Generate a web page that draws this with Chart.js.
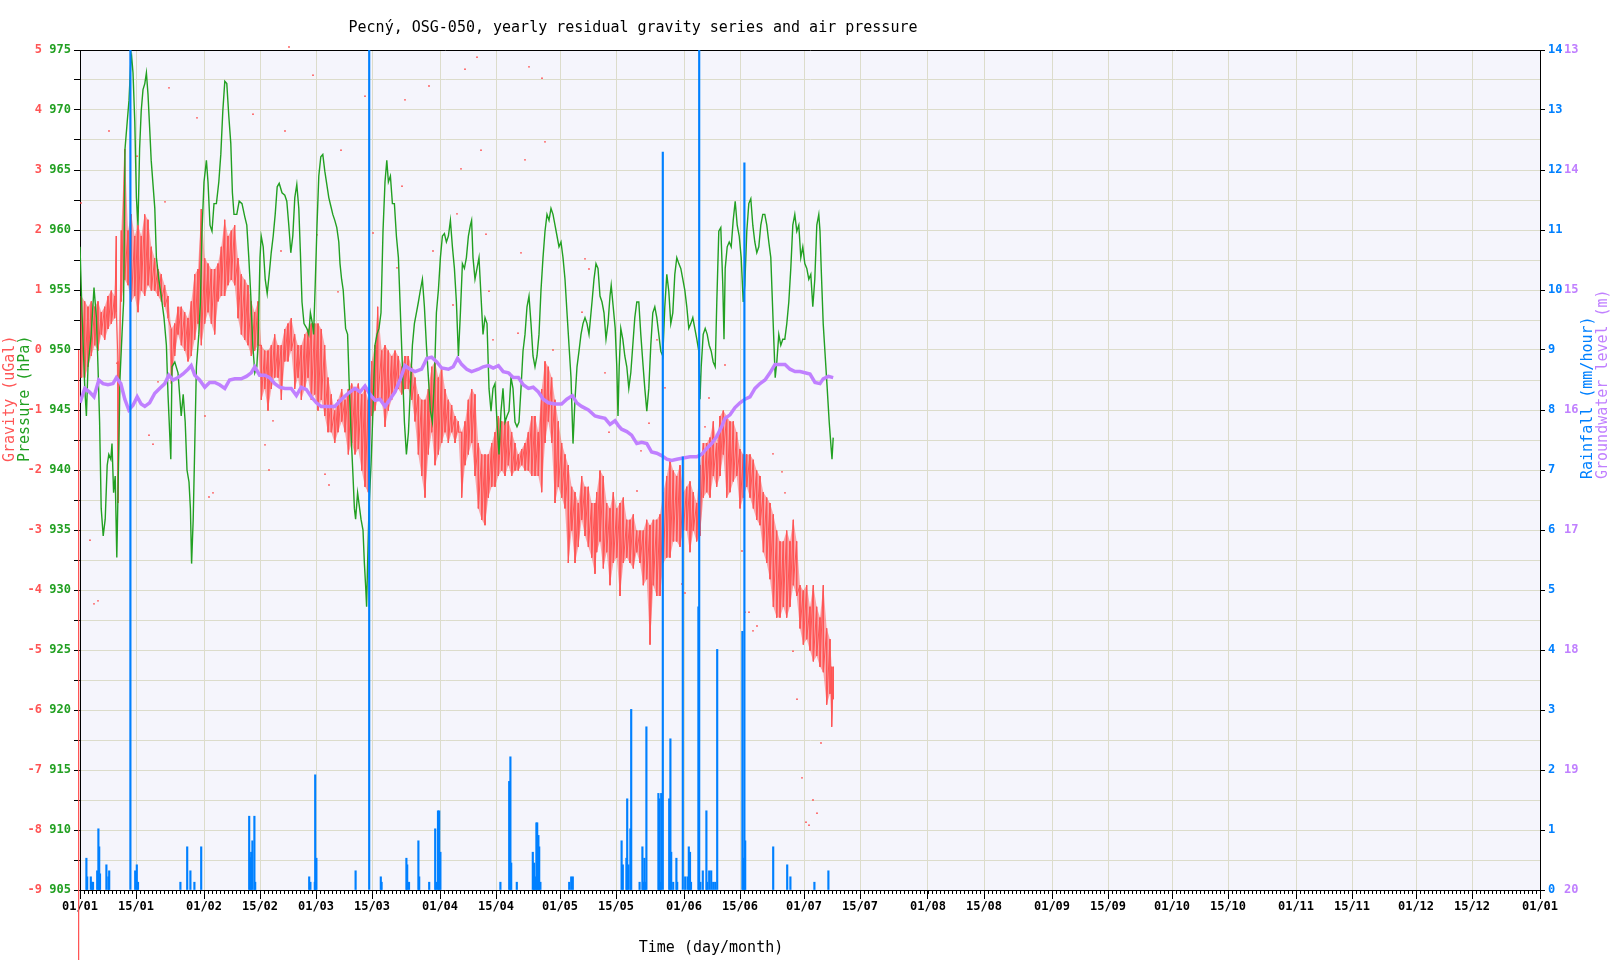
<!DOCTYPE html>
<html>
<head>
<meta charset="utf-8">
<title>Pecný, OSG-050, yearly residual gravity series and air pressure</title>
<script src="https://cdn.jsdelivr.net/npm/chart.js@4.4.0/dist/chart.umd.min.js"></script>
<style>
  html, body { margin: 0; padding: 0; background: #fff; }
  #wrap { width: 1610px; height: 960px; }
</style>
</head>
<body>
<div id="wrap"><canvas id="chart" width="1610" height="960"></canvas></div>
<script>
// x axis: day of year (0 = 01/01)
const tickDays = [0, 14, 31, 45, 59, 73, 90, 104, 120, 134, 151, 165, 181, 195, 212, 226, 243, 257, 273, 287, 304, 318, 334, 348, 365];
const tickLabels = ["01/01", "15/01", "01/02", "15/02", "01/03", "15/03", "01/04", "15/04", "01/05", "15/05", "01/06", "15/06",
  "01/07", "15/07", "01/08", "15/08", "01/09", "15/09", "01/10", "15/10", "01/11", "15/11", "01/12", "15/12", "01/01"];

// air pressure (hPa)
const pressureDay = [0, 0.5, 1.2, 1.6, 2.0, 2.8, 3.5, 4.1, 4.5, 4.9, 5.3, 5.8, 6.3, 6.8, 7.2, 7.7, 8.0, 8.4, 8.8, 9.2, 9.5, 10.0, 10.5, 10.9,
  11.25, 11.8, 12.25, 12.7, 12.9, 13.25, 13.7, 14.1, 14.5, 14.9, 15.3, 15.75, 16.2, 16.6, 17.0, 17.4, 17.8, 18.25, 18.7, 19.1, 19.7,
  20.3, 21.0, 21.6, 22.0, 22.3, 22.7, 23.0, 23.7, 24.5, 24.9, 25.3, 25.8, 26.3, 26.75, 27.25, 27.6, 27.9, 28.3, 28.7, 29.1, 29.7,
  30.1, 30.5, 31.0, 31.6, 32.0, 32.5, 33.0, 33.5, 34.1, 34.7, 35.2, 35.7, 36.2, 36.7, 37.2, 37.7, 38.1, 38.5, 39.2, 39.8, 40.5,
  41.2, 41.7, 42.2, 42.7, 43.2, 43.7, 44.2, 44.5, 45.0, 45.3, 45.8, 46.3, 46.8, 47.3, 47.8, 48.3, 48.8, 49.3, 49.8, 50.5, 51.2,
  51.7, 52.2, 52.7, 53.2, 53.7, 54.2, 54.7, 55.1, 55.5, 56.0, 56.7, 57.2, 57.6, 58.1, 58.4, 58.8, 59.25, 59.7, 60.2, 60.7, 61.2,
  61.7, 62.2, 62.7, 63.2, 63.7, 64.2, 64.7, 65.0,
  65.4, 65.8, 66.4, 66.9, 67.25, 67.75, 68.25, 68.6, 68.9, 69.4, 69.75, 70.25, 70.75, 71.1, 71.4, 71.65, 71.9, 72.25, 72.75, 73.25,
  73.75, 74.25, 74.75, 75.25, 75.75, 76.25, 76.7, 77.1, 77.6, 78.1, 78.6, 79.1, 79.6, 80.1, 80.6, 81.1, 81.6, 82.1, 82.6, 83.1,
  83.6, 84.1, 84.6, 85.1, 85.6, 86.1, 86.6, 87.1, 87.6, 88.1, 88.6, 89.1, 89.6, 90.1, 90.6, 91.1, 91.6, 92.1, 92.6, 93.1, 93.6,
  94.1, 94.6, 95.1, 95.6, 96.1, 96.6, 97.1, 97.6, 97.9, 98.25, 98.75, 99.25, 99.75, 100.25, 100.75, 101.25, 101.75, 102.25,
  102.75, 103.25, 103.75, 104.25, 104.75, 105.25, 105.75, 106.25, 106.75, 107.25, 107.75, 108.25, 108.75, 109.25, 109.75,
  110.25, 110.75, 111.25, 111.75, 112.25, 112.75, 113.25, 113.75, 114.25, 114.75, 115.25, 115.75, 116.25, 116.75, 117.25,
  117.75, 118.25, 118.75, 119.25, 119.75, 120.25, 120.75, 121.25, 121.75, 122.25, 122.75, 123.25, 123.75, 124.25, 124.75,
  125.25, 125.75, 126.25, 126.75, 127.25,
  128.0, 128.5, 129.0, 129.5, 130.0, 130.5, 131.0, 131.5, 132.0, 132.5, 132.8, 133.3, 133.8, 134.2, 134.5, 134.8, 135.2, 135.7,
  136.2, 136.7, 137.2, 137.7, 138.2, 138.7, 139.2, 139.7, 140.2, 140.7, 141.2, 141.7, 142.2, 142.7, 143.2, 143.7, 144.2, 144.7,
  145.2, 145.7, 146.2, 146.7, 147.2, 147.7, 148.2, 148.7, 149.2, 149.7, 150.2, 150.7, 151.2, 151.7, 152.2, 152.7, 153.2, 153.7,
  154.2, 154.7, 155.0, 155.3, 155.8, 156.3, 156.8, 157.3, 157.8, 158.3, 158.8, 159.2, 159.7, 160.2, 160.7, 161.0, 161.3, 161.8,
  162.3, 162.8, 163.3, 163.8, 164.3, 164.8, 165.3, 165.8, 166.2, 166.7, 167.2, 167.7, 168.2, 168.7, 169.2, 169.7, 170.2, 170.7,
  171.2, 171.7, 172.2, 172.7, 173.2, 173.5, 173.8, 174.2, 174.7, 175.2, 175.7, 176.2, 176.7, 177.2, 177.7, 178.2, 178.7, 179.2,
  179.7, 180.2, 180.7, 181.2, 181.7, 182.2, 182.7, 183.2, 183.7, 184.2, 184.7, 185.0, 185.3, 185.8, 186.3, 186.8, 187.3, 187.7,
  188.0, 188.3];
const pressureHpa = [958.6, 953.1, 946.8, 944.5, 948.6, 951.3, 955.2, 952.7, 948.6, 944.0, 936.8, 934.5, 935.9, 940.4, 941.3, 940.9,
  942.2, 938.1, 939.5, 932.7, 938.1, 947.7, 951.3, 954.0, 966.75, 969.0, 970.8, 974.0, 974.5, 973.1, 969.0, 962.7, 960.4, 966.75,
  969.9, 971.7, 972.2, 973.1, 971.3, 968.6, 965.8, 963.8, 961.8, 957.7, 955.9, 954.5, 952.7, 950.4, 946.3, 944.0, 940.9, 948.6,
  949.0, 948.1, 946.3, 944.5, 946.3, 944.0, 940.0, 939.0, 936.8, 932.2, 935.9, 942.2, 948.6, 951.3, 954.0, 959.9, 964.0, 965.8,
  964.0, 960.4, 959.9, 962.2, 962.2, 964.0, 966.3, 969.9, 972.4, 972.2, 969.5, 967.2, 963.1, 961.3, 961.3, 962.4, 962.2, 961.1,
  960.4, 957.7, 954.5, 950.4, 948.1, 948.6, 950.4, 957.7, 959.5, 958.6, 955.9, 954.7, 956.3, 958.1, 959.5, 961.3, 963.6, 963.9,
  963.1, 962.9, 962.4, 960.4, 958.1, 959.5, 962.7, 963.8, 961.8, 958.1, 954.0, 952.2, 951.8, 951.3, 953.1, 952.2, 951.3, 955.4,
  960.4, 964.5, 966.1, 966.3, 964.9, 963.8, 962.7, 962.0, 961.3, 960.8, 960.2, 959.0, 957.2,
  955.9, 955.0, 951.8, 951.3, 947.7, 943.1, 939.5, 936.8, 935.9, 938.1, 937.2, 935.9, 935.0, 932.2, 930.4, 928.6, 932.2, 936.8,
  940.4, 945.0, 950.4, 951.3, 951.8, 953.1, 959.9, 964.0, 965.8, 964.0, 964.5, 962.2, 962.2, 959.5, 957.7, 953.1, 948.6, 944.0,
  941.3, 943.1, 946.8, 950.4, 952.2, 953.1, 954.0, 955.0, 955.9, 953.6, 950.4, 947.7, 944.9, 944.0, 947.7, 953.1, 955.0, 957.7,
  959.5, 959.7, 959.0, 959.5, 960.8, 958.6, 956.8, 954.0, 949.5, 953.1, 957.2, 956.8, 957.7, 959.5, 960.4, 960.8, 957.7, 955.9,
  956.8, 957.7, 954.5, 951.3, 952.7, 952.2, 946.8, 944.9, 946.8, 947.2, 944.0, 941.3, 944.9, 946.8, 944.0, 944.5, 944.9, 947.7,
  946.8, 944.0, 943.6, 944.0, 946.8, 949.9, 951.3, 953.6, 954.5, 952.2, 949.5, 948.6, 949.5, 951.3, 955.0, 957.7, 959.9, 961.3,
  960.8, 961.8, 961.3, 960.4, 959.5, 958.6, 959.0, 957.7, 955.9, 953.1, 950.4, 947.7, 942.2, 945.9, 948.6, 949.9, 951.3, 952.2,
  952.7, 952.2, 951.3,
  954.0, 955.9, 957.2, 956.8, 954.5, 954.0, 953.1, 950.9, 952.2, 954.5, 955.4, 953.6, 951.8, 948.6, 944.5, 948.6, 951.8, 950.9,
  949.5, 948.6, 946.8, 948.1, 950.4, 952.7, 954.0, 954.0, 951.3, 949.0, 946.8, 944.9, 946.8, 950.4, 953.1, 953.6, 952.7, 951.3,
  949.9, 949.5, 953.6, 956.3, 954.9, 952.2, 953.1, 956.3, 957.7, 957.2, 956.8, 955.9, 955.0, 953.6, 951.8, 952.2, 952.7, 951.8,
  950.9, 949.9, 945.9, 948.6, 951.3, 951.8, 951.3, 950.4, 949.9, 949.0, 948.6, 954.0, 959.9, 960.2, 955.4, 950.9, 956.8, 958.6,
  959.0, 958.6, 960.8, 962.4, 960.4, 959.5, 957.7, 954.0, 955.4, 959.9, 962.2, 962.6, 960.4, 959.0, 958.1, 958.6, 960.4, 961.3,
  961.3, 960.4, 959.0, 957.7, 953.1, 950.4, 947.7, 949.0, 951.3, 950.4, 950.9, 950.9, 952.2, 954.0, 956.8, 960.4, 961.3, 959.9,
  960.4, 957.7, 958.6, 957.2, 956.8, 955.9, 956.3, 953.6, 955.9, 960.4, 961.3, 959.9, 956.8, 952.2, 949.5, 946.8, 944.0, 942.2,
  940.9, 942.7];

// residual gravity (uGal): band high / low per window
const gravityDay = [0.33, 1.17, 2.0, 2.83, 3.67, 4.5, 5.33, 6.17, 7.0, 7.83, 8.67, 9.08, 9.5, 10.33, 11.17, 12.0, 12.83, 13.67, 14.5,
  15.33, 16.17, 17.0, 17.83, 18.67, 19.5, 20.33, 21.17, 22.0, 22.83, 23.67, 24.5, 25.33, 26.17, 27.0, 27.83, 28.67, 29.5, 30.33,
  31.17, 32.0, 32.83, 33.67, 34.5, 35.33, 36.17, 37.0, 37.83, 38.67, 39.5, 40.33, 41.17, 42.0, 42.83, 43.67, 44.5, 45.33, 46.17,
  47.0, 47.83, 48.67, 49.5, 50.33, 51.17, 52.0, 52.83, 53.67, 54.5, 55.33, 56.17, 57.0, 57.83, 58.67, 59.5, 60.33, 61.17, 62.0,
  62.83, 63.67, 64.5,
  65.42, 66.25, 67.08, 67.92, 68.75, 69.58, 70.42, 71.25, 72.08, 72.92, 73.75, 74.42, 75.42, 76.25, 77.08, 77.92, 78.75, 79.58,
  80.42, 81.25, 82.08, 82.92, 83.75, 84.58, 85.42, 86.25, 87.08, 87.92, 88.75, 89.58, 90.42, 91.25, 92.08, 92.92, 93.75, 94.58,
  95.42, 96.25, 97.08, 97.92, 98.75, 99.58, 100.42, 101.25, 102.08, 102.92, 103.75, 104.58, 105.42, 106.25, 107.08, 107.92,
  108.75, 109.58, 110.42, 111.25, 112.08, 112.92, 113.75, 114.58, 115.42, 116.25, 117.08, 117.92, 118.75, 119.58, 120.42,
  121.25, 122.08, 122.92, 123.75, 124.58, 125.42, 126.25, 127.08, 127.92, 128.75,
  129.17, 130.0, 130.83, 131.67, 132.5, 133.33, 134.17, 135.0, 135.83, 136.67, 137.5, 138.33, 139.17, 140.0, 140.83, 141.67,
  142.5, 143.33, 144.17, 145.0, 145.83, 146.67, 147.5, 148.33, 149.17, 150.0, 150.83, 151.67, 152.5, 153.33, 154.17, 155.0,
  155.83, 156.67, 157.5, 158.33, 159.17, 160.0, 160.83, 161.67, 162.5, 163.33, 164.17, 165.0, 165.83, 166.67, 167.5, 168.33,
  169.17, 170.0, 170.83, 171.67, 172.5, 173.33, 174.17, 175.0, 175.83, 176.67, 177.5, 178.33, 179.17, 180.0, 180.83, 181.67,
  182.5, 183.33, 184.17, 185.0, 185.83, 186.67, 187.5, 187.92, 188.33];
const gravityHigh = [0.90, 0.81, 0.72, 0.81, 0.72, 0.81, 0.63, 0.72, 0.90, 0.99, 0.90, 1.90, -0.19, 1.99, 3.35, 1.99, 2.26, 1.90,
  2.08, 1.90, 2.26, 2.17, 1.72, 1.53, 1.35, 1.26, 1.08, 0.90, 0.35, 0.44, 0.72, 0.72, 0.63, 0.53, 0.81, 1.26, 1.35, 2.35, 1.53,
  1.44, 1.35, 1.35, 1.44, 1.72, 2.17, 1.90, 1.99, 2.08, 1.53, 1.26, 1.17, 1.08, 0.81, 0.63, 0.81, 0.08, -0.01, -0.01, 0.08, 0.26,
  0.08, 0.08, 0.35, 0.44, 0.53, 0.26, 0.08, 0.08, 0.26, 0.35, 0.44, 0.44, 0.44, 0.35, 0.08, -0.46, -0.74, -1.01, -0.83,
  -0.65, -0.83, -0.65, -0.56, -0.65, -0.56, -0.74, -0.65, -0.83, -0.19, 0.08, 0.72, -0.01, 0.08, -0.01, -0.10, -0.01, -0.10,
  -0.28, -0.10, -0.10, -0.28, -0.46, -0.74, -0.83, -0.83, -0.65, -0.28, -0.19, -0.46, -0.28, -0.65, -0.83, -0.92, -1.10, -1.19,
  -1.37, -1.19, -0.83, -0.65, -0.74, -1.55, -1.74, -1.74, -1.74, -1.55, -1.37, -1.10, -1.19, -1.19, -1.19, -1.37, -1.55, -1.74,
  -1.65, -1.55, -1.37, -1.10, -1.10, -1.37, -0.65, -0.19, -0.28, -0.46, -0.83, -1.19, -1.55, -1.74, -1.92, -2.28, -2.37, -2.55,
  -2.10, -2.28, -2.28, -2.55, -2.55,
  -2.37, -2.01, -2.10, -2.55, -2.64, -2.37, -2.64, -2.55, -2.46, -2.83, -2.83, -2.74, -3.01, -3.01, -3.01, -2.83, -2.92, -2.83,
  -2.83, -2.74, -2.37, -2.10, -1.83, -2.01, -2.10, -1.92, -2.37, -2.28, -2.19, -2.37, -2.55, -1.92, -1.55, -1.55, -1.46, -1.19,
  -1.55, -1.10, -1.01, -1.10, -1.19, -1.19, -1.37, -1.65, -1.74, -1.74, -1.74, -1.83, -2.01, -2.10, -2.37, -2.46, -2.55, -2.74,
  -3.01, -3.19, -3.19, -3.01, -3.19, -2.83, -3.19, -3.92, -4.01, -3.92, -4.28, -3.92, -4.28, -4.46, -3.92, -4.64, -4.82, -5.28,
  -5.28];
const gravityLow = [-0.46, -0.46, -0.28, -0.10, 0.08, -0.01, 0.26, 0.17, 0.35, 0.44, 0.53, 0.63, -2.55, 0.81, 1.17, 1.08, 0.81, 0.90,
  0.63, 0.99, 0.90, 1.08, 0.99, 0.99, 0.90, 0.81, 0.72, 0.53, -0.56, -0.10, 0.26, 0.08, -0.01, -0.19, -0.10, 0.17, 0.44, 0.08,
  0.44, 0.63, 0.44, 0.26, 0.81, 0.90, 0.90, 1.08, 1.17, 1.08, 0.53, 0.26, 0.17, 0.08, -0.10, -0.01, 0.08, -0.83, -0.65, -1.01,
  -0.65, -0.46, -0.46, -0.83, -0.19, -0.19, -0.01, -0.65, -0.46, -0.83, -0.65, -0.46, -0.83, -0.74, -1.01, -0.83, -1.10, -1.37,
  -1.37, -1.55, -1.37,
  -1.19, -1.37, -1.74, -1.55, -1.74, -1.65, -2.01, -2.28, -2.37, -1.10, -1.01, -0.83, -0.83, -1.28, -1.01, -0.83, -0.65, -0.65,
  -0.74, -0.65, -0.65, -0.83, -1.19, -1.74, -2.10, -2.46, -1.74, -1.37, -1.92, -1.74, -1.55, -1.37, -1.55, -1.37, -1.55, -1.37,
  -2.46, -1.92, -1.74, -1.55, -2.10, -2.64, -2.83, -2.92, -2.46, -2.28, -2.28, -2.10, -2.01, -2.10, -1.92, -2.10, -2.01, -2.01,
  -1.92, -2.01, -2.01, -2.10, -2.10, -2.10, -2.37, -1.55, -1.19, -1.55, -2.55, -2.28, -2.46, -2.64, -3.55, -3.01, -3.55, -3.28,
  -2.83, -3.10, -3.28, -3.46, -3.73,
  -3.37, -3.19, -3.64, -3.37, -3.92, -3.55, -3.46, -4.10, -3.55, -3.46, -3.55, -3.64, -3.37, -3.55, -3.92, -3.82, -4.91, -3.92,
  -4.10, -4.10, -3.55, -3.46, -3.46, -3.19, -3.19, -3.28, -3.01, -3.01, -3.37, -3.01, -3.19, -3.10, -2.46, -2.37, -2.46, -2.10,
  -2.28, -2.10, -1.74, -2.46, -2.37, -2.19, -2.10, -2.64, -2.46, -2.28, -2.46, -2.64, -2.83, -2.92, -3.37, -3.55, -3.82, -4.28,
  -4.46, -4.46, -4.28, -4.46, -4.28, -3.92, -4.10, -4.64, -4.91, -4.82, -5.01, -5.19, -5.10, -5.28, -5.37, -5.91, -5.73, -6.28,
  -5.82];

// start-of-record gravity drop, drawn just left of the frame
const gravityEdgeDay = [-0.35, -0.35];
const gravityEdgeUgal = [0.0, -11];

// single gravity outliers
const outlierDay = [23.25, 36.25, 52.25, 66.25, 7.25, 22.25, 29.25, 43.25, 51.25, 58.25, 65.25, 71.25, 14.25,
  81.25, 87.25, 96.25, 99.25, 95.25, 100.25, 80.5, 88.25, 94.25, 73.25, 101.5, 93.25, 102.25, 103.25, 112.25, 115.5, 116.25,
  111.25, 110.25, 109.5, 126.25, 127.25, 125.5, 64.5, 118.25, 79.25, 98,
  21.25, 50.25, 31.25, 17.25, 18.25, 19.5, 48.25, 46.25, 47.25, 32.25, 33.25, 61.25, 62.25, 2.5, 3.5, 4.5, 59.25, 0.25, 9.25,
  131.25, 132.25, 144.25, 146.25, 142.25, 140.25, 139.25, 157.25, 161.25, 156.25, 173.25, 175.5, 176.25, 165.5, 166.25, 167.25,
  168.25, 169.25, 150.5, 151.25, 178.25, 179.25, 185.25, 180.5, 183.25, 184.25, 181.5, 182.25];
const outlierUgal = [5.55, 5.3, 5.05, 5.57, 3.65, 4.37, 3.87, 3.93, 3.65, 4.58, 3.33, 4.23, 3.23,
  4.17, 4.4, 4.68, 4.88, 3.02, 3.33, 2.73, 1.65, 2.27, 1.95, 1.93, 0.75, 0.98, 0.17, 4.72, 4.53, 3.47, 3.17, 1.62, 0.28, 1.52,
  1.35, 0.63, 0.97, 0.0, 1.37, 5.75,
  2.47, 1.65, -1.1, -1.42, -1.57, -0.53, -1.18, -1.58, -2.0, -2.45, -2.38, -2.07, -2.25, -3.17, -4.23, -4.18, 1.92, 2.45, -0.22,
  -0.38, -1.37, 0.17, -0.63, -1.22, -1.68, -2.35, -0.8, -0.25, -1.28, -1.73, -2.03, -2.38, -3.35, -4.37, -4.37, -4.68, -4.6,
  -3.9, -4.05, -5.02, -5.82, -6.55, -7.13, -7.5, -7.72, -7.87, -7.92];

// groundwater level (m below surface)
const groundwaterDay = [0.0, 1.2, 2.4, 3.5, 4.7, 5.75, 7.0, 8.25, 9.1, 10.2, 11.2, 12.2, 13.25, 14.3, 15.3, 16.2, 17.4, 18.7, 19.9,
  21.2, 22.2, 23.25, 24.5, 25.75, 27.0, 27.8, 28.7, 29.9, 31.2, 32.4, 33.7, 34.9, 36.2, 37.4, 38.7, 40.3, 41.6, 42.8, 43.7, 44.9,
  46.2, 47.4, 48.7, 49.9, 51.2, 52.8, 54.1, 55.3, 56.6, 57.8, 59.1, 60.3, 62.0, 63.7,
  65.4, 67.1, 68.75, 70.0, 71.25, 72.5, 73.75, 75.0, 76.25, 77.5, 78.75, 80.0, 81.25, 82.5, 83.75, 85.4, 86.7, 87.9, 89.2, 90.4,
  92.1, 93.3, 94.4, 95.4, 96.7, 97.9, 99.6, 100.8, 102.1, 103.3, 104.6, 105.8, 107.1, 108.3, 109.6, 110.8, 112.1, 113.3, 114.6,
  115.8, 117.1, 118.75, 120.4, 121.7, 123.1, 124.2, 125.4, 127.1,
  128.75, 130.0, 131.25, 132.5, 133.75, 134.6, 135.4, 136.7, 137.9, 139.2, 140.4, 141.7, 142.9, 144.2, 145.4, 146.7, 147.9,
  149.2, 150.8, 152.5, 154.2, 155.4, 156.7, 157.9, 159.2, 160.4, 161.25, 162.5, 163.75, 165.0, 166.25, 167.5, 168.75, 170.0,
  171.25, 172.5, 173.75, 175.0, 176.25, 177.5, 178.75, 180.0, 181.25, 182.5, 183.75, 185.0, 185.8, 187.1, 188.3];
const groundwaterLevel = [15.94, 15.82, 15.85, 15.89, 15.75, 15.78, 15.79, 15.78, 15.73, 15.78, 15.91, 16.00, 15.96, 15.89, 15.95,
  15.97, 15.94, 15.86, 15.82, 15.78, 15.71, 15.75, 15.73, 15.70, 15.66, 15.63, 15.71, 15.75, 15.81, 15.77, 15.77, 15.79, 15.82,
  15.75, 15.74, 15.74, 15.72, 15.69, 15.64, 15.71, 15.71, 15.73, 15.78, 15.81, 15.82, 15.82, 15.88, 15.81, 15.83, 15.89, 15.94,
  15.97, 15.97, 15.97,
  15.91, 15.86, 15.82, 15.85, 15.80, 15.87, 15.92, 15.91, 15.97, 15.91, 15.85, 15.75, 15.63, 15.66, 15.68, 15.66, 15.57, 15.56,
  15.60, 15.65, 15.66, 15.64, 15.57, 15.62, 15.66, 15.68, 15.66, 15.64, 15.63, 15.65, 15.63, 15.68, 15.69, 15.73, 15.73, 15.79,
  15.82, 15.81, 15.85, 15.91, 15.94, 15.95, 15.95, 15.91, 15.88, 15.94, 15.97, 16.00,
  16.05, 16.06, 16.07, 16.12, 16.09, 16.13, 16.16, 16.18, 16.21, 16.28, 16.27, 16.28, 16.35, 16.36, 16.38, 16.41, 16.42, 16.41,
  16.40, 16.39, 16.39, 16.37, 16.32, 16.28, 16.22, 16.14, 16.07, 16.04, 15.98, 15.94, 15.91, 15.89, 15.82, 15.78, 15.75, 15.69,
  15.62, 15.62, 15.62, 15.66, 15.68, 15.68, 15.69, 15.70, 15.77, 15.78, 15.74, 15.72, 15.73];

// rainfall (mm/hour)
const rainDay = [1.6, 1.8, 2.7, 3.0, 3.25, 4.3, 4.6, 4.8, 5.0, 6.6, 7.1, 7.3, 12.6, 13.8, 14.2, 14.5, 25.1, 26.8, 27.6, 28.6, 30.3,
  42.3, 42.6, 42.8, 43.1, 43.6, 43.8, 57.3, 57.6, 58.7, 58.8, 59.1,
  68.9, 72.3, 75.2, 75.4, 81.6, 81.8, 82.25, 84.6, 84.8, 87.3, 88.8, 89.1, 89.5, 89.8, 90.1, 105.1, 107.3, 107.6, 107.8, 109.2,
  113.2, 113.5, 113.75, 114.1, 114.3, 114.6, 114.8, 115.1, 122.3, 122.8, 123.2,
  135.4, 135.7, 136.6, 136.8, 137.1, 137.6, 137.8, 139.9, 140.6, 140.8, 141.1, 141.3, 141.6, 144.6, 144.8, 145.1, 145.3, 145.7,
  147.3, 147.6, 147.8, 148.3, 149.1, 149.3, 150.7, 151.3, 151.9, 152.2, 152.5, 152.75, 154.6, 154.8, 155.1, 155.7, 156.6, 156.8,
  157.3, 157.8, 158.3, 158.8, 159.3, 165.6, 165.8, 166.1, 166.3, 173.3, 176.8, 177.6, 183.6, 187.1];
const rainMm = [0.53, 0.22, 0.22, 0.13, 0.13, 0.32, 1.02, 0.72, 0.27, 0.42, 0.22, 0.32, 16, 0.32, 0.42, 0.13, 0.13, 0.72, 0.32, 0.13,
  0.72, 1.23, 0.54, 0.63, 0.82, 1.23, 0.13, 0.22, 0.13, 0.13, 1.92, 0.53,
  0.32, 16, 0.22, 0.13, 0.53, 0.42, 0.13, 0.82, 0.22, 0.13, 1.02, 0.13, 1.32, 1.32, 0.63, 0.13, 1.81, 2.22, 0.45, 0.13, 0.63,
  0.45, 0.22, 1.12, 1.12, 0.91, 0.72, 0.13, 0.13, 0.22, 0.22,
  0.82, 0.42, 0.53, 1.52, 0.42, 1.02, 3.01, 0.13, 0.72, 0.13, 0.53, 0.13, 2.72, 1.61, 1.52, 0.13, 1.61, 12.3, 1.52, 2.52, 0.63,
  0.13, 0.53, 0.13, 7.22, 0.22, 0.22, 0.72, 0.63, 0.13, 4.72, 16, 0.13, 0.32, 1.32, 0.13, 0.32, 0.32, 0.13, 0.13, 4.01, 4.31,
  0.53, 12.12, 0.82, 0.72, 0.42, 0.22, 0.13, 0.32];

const RED = "#ff5555";
const GREEN = "#22a022";
const BLUE = "#0080ff";
const PURPLE = "#c080ff";
const GRID = "#dcdccb";
const MONO = "'DejaVu Sans Mono', 'Liberation Mono', monospace";
const tickFont = { family: MONO, size: 12, weight: "bold" };

Chart.defaults.font.family = MONO;

const pts = (xs, ys) => xs.map((x, i) => ({ x: x, y: ys[i] }));

// each window: vertical stroke from high to low, like the raw tidal residual
const gravityPoints = [];
gravityDay.forEach((d, i) => {
  gravityPoints.push({ x: d, y: gravityHigh[i] }, { x: d, y: gravityLow[i] });
});

const plotBackground = {
  id: "plotBackground",
  beforeDraw(chart) {
    const { ctx, chartArea: a } = chart;
    ctx.save();
    ctx.fillStyle = "#f5f5fc";
    ctx.fillRect(a.left, a.top, a.right - a.left, a.bottom - a.top);
    ctx.restore();
  },
};

// daily minor ticks under the time axis
const minorTicks = {
  id: "minorTicks",
  afterDraw(chart) {
    const s = chart.scales.x;
    const ctx = chart.ctx;
    const y0 = chart.chartArea.bottom;
    ctx.save();
    ctx.strokeStyle = "#000";
    ctx.lineWidth = 1;
    ctx.beginPath();
    for (let d = 0; d <= 365; d++) {
      const x = Math.round(s.getPixelForValue(d)) + 0.5;
      ctx.moveTo(x, y0);
      ctx.lineTo(x, y0 + 4);
    }
    ctx.stroke();
    ctx.restore();
  },
};

// title and axis titles placed where the original puts them
const freeText = {
  id: "freeText",
  afterDraw(chart) {
    const ctx = chart.ctx;
    ctx.save();
    ctx.font = "15px " + MONO;
    ctx.fillStyle = "#000";
    ctx.textAlign = "center";
    ctx.textBaseline = "middle";
    ctx.fillText("Pecný, OSG-050, yearly residual gravity series and air pressure", 633, 28);
    ctx.fillText("Time (day/month)", 711, 948);

    const vertical = (text, x, y, color) => {
      ctx.save();
      ctx.translate(x, y);
      ctx.rotate(-Math.PI / 2);
      ctx.fillStyle = color;
      ctx.textAlign = "left";
      ctx.fillText(text, 0, 0);
      ctx.restore();
    };
    vertical("Gravity (uGal)", 10, 462, RED);
    vertical("Pressure (hPa)", 25.5, 462, GREEN);
    vertical("Rainfall (mm/hour)", 1588, 479, BLUE);
    vertical("Groundwater level (m)", 1603, 479, PURPLE);
    ctx.restore();
  },
};

new Chart(document.getElementById("chart").getContext("2d"), {
  type: "line",
  data: {
    datasets: [
      {
        type: "bar",
        label: "Rainfall",
        data: pts(rainDay, rainMm),
        xAxisID: "x",
        yAxisID: "yR",
        backgroundColor: BLUE,
        borderWidth: 0,
        barThickness: 1.5,
      },
      {
        label: "Groundwater level",
        data: pts(groundwaterDay, groundwaterLevel),
        xAxisID: "x",
        yAxisID: "yW",
        borderColor: PURPLE,
        borderWidth: 3.5,
        pointRadius: 0,
      },
      {
        label: "Pressure",
        data: pts(pressureDay, pressureHpa),
        xAxisID: "x",
        yAxisID: "yP",
        borderColor: GREEN,
        borderWidth: 1.4,
        pointRadius: 0,
      },
      {
        label: "Gravity",
        data: gravityPoints,
        xAxisID: "x",
        yAxisID: "yG",
        borderColor: RED,
        borderWidth: 1,
        pointRadius: 0,
      },
      {
        label: "Gravity band top",
        data: pts(gravityDay, gravityHigh),
        xAxisID: "x",
        yAxisID: "yG",
        borderWidth: 0,
        borderColor: "rgba(0,0,0,0)",
        pointRadius: 0,
        fill: "+1",
        backgroundColor: "rgba(255,85,85,0.5)",
      },
      {
        label: "Gravity band bottom",
        data: pts(gravityDay, gravityLow),
        xAxisID: "x",
        yAxisID: "yG",
        borderWidth: 0,
        borderColor: "rgba(0,0,0,0)",
        pointRadius: 0,
        fill: false,
      },
      {
        label: "Gravity start",
        data: pts(gravityEdgeDay, gravityEdgeUgal),
        xAxisID: "x",
        yAxisID: "yG",
        borderColor: RED,
        borderWidth: 1,
        pointRadius: 0,
        clip: false,
      },
      {
        type: "scatter",
        label: "Gravity outliers",
        data: pts(outlierDay, outlierUgal),
        xAxisID: "x",
        yAxisID: "yG",
        showLine: false,
        pointRadius: 0.9,
        pointBorderWidth: 0,
        pointBackgroundColor: RED,
        clip: false,
      },
    ],
  },
  options: {
    responsive: false,
    maintainAspectRatio: false,
    devicePixelRatio: 1,
    animation: false,
    events: [],
    layout: { padding: { top: 50, left: 0, right: 0, bottom: 0 } },
    plugins: {
      legend: { display: false },
      tooltip: { enabled: false },
      title: { display: false },
    },
    scales: {
      x: {
        type: "linear",
        position: "bottom",
        min: 0,
        max: 365,
        offset: false,
        afterBuildTicks: (s) => {
          s.ticks = tickDays.map((v) => ({ value: v }));
        },
        afterFit: (s) => {
          s.height = 70;
        },
        ticks: {
          autoSkip: false,
          maxRotation: 0,
          minRotation: 0,
          padding: 1,
          color: "#000",
          font: tickFont,
          callback: (v, i) => tickLabels[i],
        },
        grid: { offset: false, color: GRID, tickColor: "#000", tickLength: 9, lineWidth: 1 },
        border: { color: "#000", width: 1 },
      },
      xTop: {
        type: "linear",
        position: "top",
        min: 0,
        max: 365,
        ticks: { display: false },
        grid: { display: false, drawTicks: false },
        border: { color: "#000", width: 1 },
        afterFit: (s) => {
          s.height = 0;
        },
      },
      yP: {
        position: "left",
        min: 905,
        max: 975,
        afterFit: (s) => {
          s.width = 38;
        },
        ticks: {
          stepSize: 2.5,
          maxTicksLimit: 100,
          autoSkip: false,
          padding: 3,
          color: GREEN,
          font: tickFont,
          callback: (v) => (v % 5 === 0 ? String(v) : ""),
        },
        grid: { color: GRID, tickColor: "#000", tickLength: 6, lineWidth: 1 },
        border: { color: "#000", width: 1 },
      },
      yG: {
        position: "left",
        min: -9,
        max: 5,
        afterFit: (s) => {
          s.width = 42;
        },
        ticks: { stepSize: 1, autoSkip: false, padding: 0, color: RED, font: tickFont },
        grid: { display: false, drawTicks: false },
        border: { display: false },
      },
      yR: {
        position: "right",
        min: 0,
        max: 14,
        afterFit: (s) => {
          s.width = 24;
        },
        ticks: { stepSize: 1, autoSkip: false, padding: 3, color: BLUE, font: tickFont },
        grid: { drawOnChartArea: false, tickColor: "#000", tickLength: 5 },
        border: { color: "#000", width: 1 },
      },
      yW: {
        position: "right",
        reverse: true,
        min: 13,
        max: 20,
        afterFit: (s) => {
          s.width = 46;
        },
        ticks: { stepSize: 1, autoSkip: false, padding: 0, color: PURPLE, font: tickFont },
        grid: { display: false, drawTicks: false },
        border: { display: false },
      },
    },
  },
  plugins: [plotBackground, minorTicks, freeText],
});
</script>
</body>
</html>
